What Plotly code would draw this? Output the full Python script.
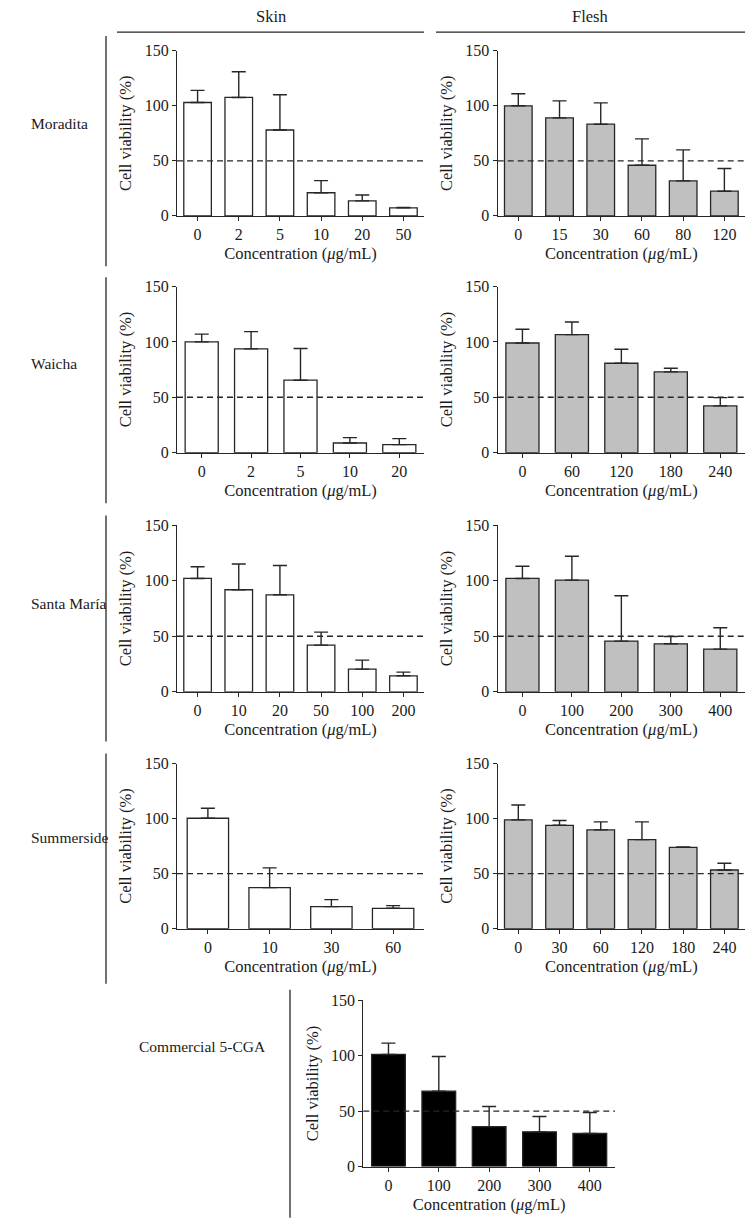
import plotly.graph_objects as go

# Target positions below are page pixels of the 756x1228 picture.
# The page body adds an 8px margin; the photographed page comes out
# slightly taller than the window, so vertical page positions are
# mapped through a small measured correction.
OFF_X = 8
W, H = 740, 1228
Y_SCALE = 0.9855
Y_TOP = 17.2

# ---------------- data ----------------
moradita_skin_conc = ["0", "2", "5", "10", "20", "50"]
moradita_skin_mean = [103, 107.6, 78, 21, 13.6, 7.3]
moradita_skin_sd = [11, 23.4, 32, 11, 5.4, 0.3]

moradita_flesh_conc = ["0", "15", "30", "60", "80", "120"]
moradita_flesh_mean = [100, 89, 83.3, 46, 31.8, 22.4]
moradita_flesh_sd = [11, 15.5, 19.4, 24, 28.2, 20.6]

waicha_skin_conc = ["0", "2", "5", "10", "20"]
waicha_skin_mean = [100, 93.7, 65.4, 8.7, 7.2]
waicha_skin_sd = [7, 15.6, 28.6, 4.9, 5.5]

waicha_flesh_conc = ["0", "60", "120", "180", "240"]
waicha_flesh_mean = [99, 106.6, 80.7, 72.9, 42.2]
waicha_flesh_sd = [12.4, 11.4, 12.7, 3.3, 7.5]

santamaria_skin_conc = ["0", "10", "20", "50", "100", "200"]
santamaria_skin_mean = [102, 91.8, 87.3, 42, 20.4, 14.4]
santamaria_skin_sd = [10.5, 23.2, 26.4, 11.7, 8.1, 3.3]

santamaria_flesh_conc = ["0", "100", "200", "300", "400"]
santamaria_flesh_mean = [102, 100.5, 45.6, 43.2, 38.4]
santamaria_flesh_sd = [11, 21.5, 40.8, 6.6, 19.2]

summerside_skin_conc = ["0", "10", "30", "60"]
summerside_skin_mean = [100.3, 37.3, 20, 18.5]
summerside_skin_sd = [9.1, 17.9, 6.4, 2.4]

summerside_flesh_conc = ["0", "30", "60", "120", "180", "240"]
summerside_flesh_mean = [98.8, 93.9, 89.7, 80.9, 73.9, 53.3]
summerside_flesh_sd = [13.6, 4.3, 7.3, 16.1, 0.3, 6.1]

cga_conc = ["0", "100", "200", "300", "400"]
cga_mean = [101.2, 68, 36, 31.3, 29.8]
cga_sd = [10.2, 31.4, 18.2, 13.9, 19]

row_labels = ["Moradita", "Waicha", "Santa María", "Summerside", "Commercial 5-CGA"]
col_labels = ["Skin", "Flesh"]
y_ticks = [0, 50, 100, 150]
threshold = 50

FONT = "Liberation Serif"
FS_TICK = 16
FS_TITLE = 16.5
FS_LABEL = 15.5
INK = "#1a1a1a"
LINE = "#262626"
SKIN_FILL = "#ffffff"
FLESH_FILL = "#c0c0c0"
CGA_FILL = "#000000"

# panel layout in page pixels: (x_left, x_right), (y_top, y_bottom)
SKIN_X = (177, 424)
FLESH_X = (497.7, 745)
CGA_X = (363.3, 615)
ROWS_Y = [(51.7, 216.7), (287.3, 453.3), (525.7, 692.3), (764, 929), (1000.7, 1166.7)]

panels = [
    (moradita_skin_conc, moradita_skin_mean, moradita_skin_sd, SKIN_FILL, SKIN_X, ROWS_Y[0]),
    (moradita_flesh_conc, moradita_flesh_mean, moradita_flesh_sd, FLESH_FILL, FLESH_X, ROWS_Y[0]),
    (waicha_skin_conc, waicha_skin_mean, waicha_skin_sd, SKIN_FILL, SKIN_X, ROWS_Y[1]),
    (waicha_flesh_conc, waicha_flesh_mean, waicha_flesh_sd, FLESH_FILL, FLESH_X, ROWS_Y[1]),
    (santamaria_skin_conc, santamaria_skin_mean, santamaria_skin_sd, SKIN_FILL, SKIN_X, ROWS_Y[2]),
    (santamaria_flesh_conc, santamaria_flesh_mean, santamaria_flesh_sd, FLESH_FILL, FLESH_X, ROWS_Y[2]),
    (summerside_skin_conc, summerside_skin_mean, summerside_skin_sd, SKIN_FILL, SKIN_X, ROWS_Y[3]),
    (summerside_flesh_conc, summerside_flesh_mean, summerside_flesh_sd, FLESH_FILL, FLESH_X, ROWS_Y[3]),
    (cga_conc, cga_mean, cga_sd, CGA_FILL, CGA_X, ROWS_Y[4]),
]


def px_x(v):
    return (v - OFF_X) / W


def px_y(v):
    return 1 - (v / Y_SCALE - Y_TOP) / H


fig = go.Figure()
layout = {}
shapes = []
annotations = []

for i, (conc, mean, sd, fill, xs, ys) in enumerate(panels, start=1):
    sfx = "" if i == 1 else str(i)
    fig.add_trace(go.Bar(
        x=conc, y=mean,
        xaxis="x" + sfx, yaxis="y" + sfx,
        marker=dict(color=fill, line=dict(color=LINE, width=1.3)),
        error_y=dict(type="data", array=sd, arrayminus=[0] * len(sd), symmetric=False,
                     color=LINE, thickness=1.4, width=7),
        showlegend=False, hoverinfo="x+y",
    ))
    layout["xaxis" + sfx] = dict(
        domain=[px_x(xs[0]), px_x(xs[1])], anchor="y" + sfx,
        type="category", range=[-0.5, len(conc) - 0.5],
        showline=True, linecolor=LINE, linewidth=1.3,
        ticks="outside", ticklen=4, tickwidth=1.2, tickcolor=LINE,
        showgrid=False, zeroline=False,
        tickfont=dict(family=FONT, size=FS_TICK, color=INK),
        title=dict(text="Concentration (<i>μ</i>g/mL)", standoff=5,
                   font=dict(family=FONT, size=FS_TITLE, color=INK)),
        fixedrange=True,
    )
    layout["yaxis" + sfx] = dict(
        domain=[px_y(ys[1]), px_y(ys[0])], anchor="x" + sfx,
        range=[0, 150], tickvals=y_ticks,
        showline=True, linecolor=LINE, linewidth=1.3,
        ticks="outside", ticklen=4, tickwidth=1.2, tickcolor=LINE,
        showgrid=False, zeroline=False,
        tickfont=dict(family=FONT, size=FS_TICK, color=INK),
        title=dict(text="Cell viability (%)", standoff=8,
                   font=dict(family=FONT, size=FS_TITLE, color=INK)),
        fixedrange=True,
    )
    shapes.append(dict(type="line", xref="x" + sfx + " domain", yref="y" + sfx,
                       x0=0, x1=1, y0=threshold, y1=threshold,
                       line=dict(color=LINE, width=1.3, dash="6px,4px"), layer="above"))

# column headers with rules
for label, (x0, x1) in zip(col_labels, [(117, 424), (436, 745)]):
    annotations.append(dict(text=label, xref="paper", yref="paper",
                            x=px_x((x0 + x1) / 2), y=px_y(17), showarrow=False,
                            xanchor="center", yanchor="middle",
                            font=dict(family=FONT, size=FS_TITLE, color=INK)))
    shapes.append(dict(type="line", xref="paper", yref="paper",
                       x0=px_x(x0), x1=px_x(x1), y0=px_y(33), y1=px_y(33),
                       line=dict(color=LINE, width=1.3)))

# row labels and vertical separators
row_label_pos = [(29, 124), (29, 364), (29, 604), (29, 838), (137, 1047)]
row_lines = [(106, 37, 267), (106, 278, 504), (106, 516, 742), (106, 754, 984), (290, 990, 1218)]
for label, (lx, ly), (vx, vy0, vy1) in zip(row_labels, row_label_pos, row_lines):
    annotations.append(dict(text=label, xref="paper", yref="paper",
                            x=px_x(lx), y=px_y(ly), showarrow=False,
                            xanchor="left", yanchor="middle",
                            font=dict(family=FONT, size=FS_LABEL, color=INK)))
    shapes.append(dict(type="line", xref="paper", yref="paper",
                       x0=px_x(vx), x1=px_x(vx), y0=px_y(vy0), y1=px_y(vy1),
                       line=dict(color=LINE, width=1.3)))

fig.update_layout(
    width=W, height=H,
    margin=dict(l=0, r=0, t=0, b=0),
    paper_bgcolor="white", plot_bgcolor="white",
    bargap=0.33,
    shapes=shapes, annotations=annotations,
    font=dict(family=FONT, color=INK),
    **layout,
)

fig.write_html("out.html")
